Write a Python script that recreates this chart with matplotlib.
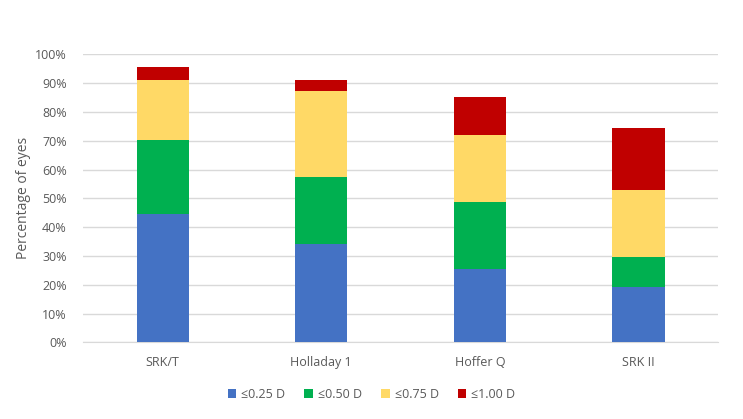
import matplotlib.pyplot as plt
import numpy as np
from matplotlib.ticker import PercentFormatter

# data (percent of eyes, per band increment)
formulas = ['SRK/T', 'Holladay 1', 'Hoffer Q', 'SRK II']
d025 = [44.6, 34.0, 25.4, 19.1]
d050 = [25.6, 23.3, 23.4, 10.6]
d075 = [21.1, 29.9, 23.3, 23.3]
d100 = [4.2, 4.1, 13.0, 21.3]
labels = ['≤0.25 D', '≤0.50 D', '≤0.75 D', '≤1.00 D']
colors = ['#4472C4', '#00B050', '#FFD966', '#C00000']

plt.rcParams['font.family'] = ['Open Sans', 'DejaVu Sans']

fig = plt.figure(figsize=(7.43, 4.19), dpi=100)
ax = fig.add_axes([0.1122, 0.183, 0.854, 0.687])

x = np.arange(len(formulas))
bottom = np.zeros(len(formulas))
for vals, lab, col in zip([d025, d050, d075, d100], labels, colors):
    ax.bar(x, vals, width=0.33, bottom=bottom, color=col, label=lab, zorder=3)
    bottom += np.array(vals)

ax.set_xlim(-0.5, len(formulas) - 0.5)
ax.set_ylim(0, 100)
ax.set_yticks(np.arange(0, 101, 10))
ax.yaxis.set_major_formatter(PercentFormatter(decimals=0))
ax.set_xticks(x)
ax.set_xticklabels(formulas)
ax.grid(axis='y', color='#d9d9d9', linewidth=1, zorder=0)
for s in ['top', 'right', 'left']:
    ax.spines[s].set_visible(False)
ax.spines['bottom'].set_color('#d9d9d9')
ax.tick_params(axis='both', length=0, colors='#595959', labelsize=9)
ax.tick_params(axis='x', pad=10)
ax.tick_params(axis='y', pad=12)
ax.set_ylabel('Percentage of eyes', color='#595959', fontsize=10, labelpad=3)

fig.legend(loc='center', bbox_to_anchor=(0.5, 0.058), ncol=4, frameon=False,
           fontsize=9, handlelength=0.7, handleheight=0.7, handletextpad=0.4,
           columnspacing=1.5, labelcolor='#595959')

fig.savefig('out.png', dpi=100)
